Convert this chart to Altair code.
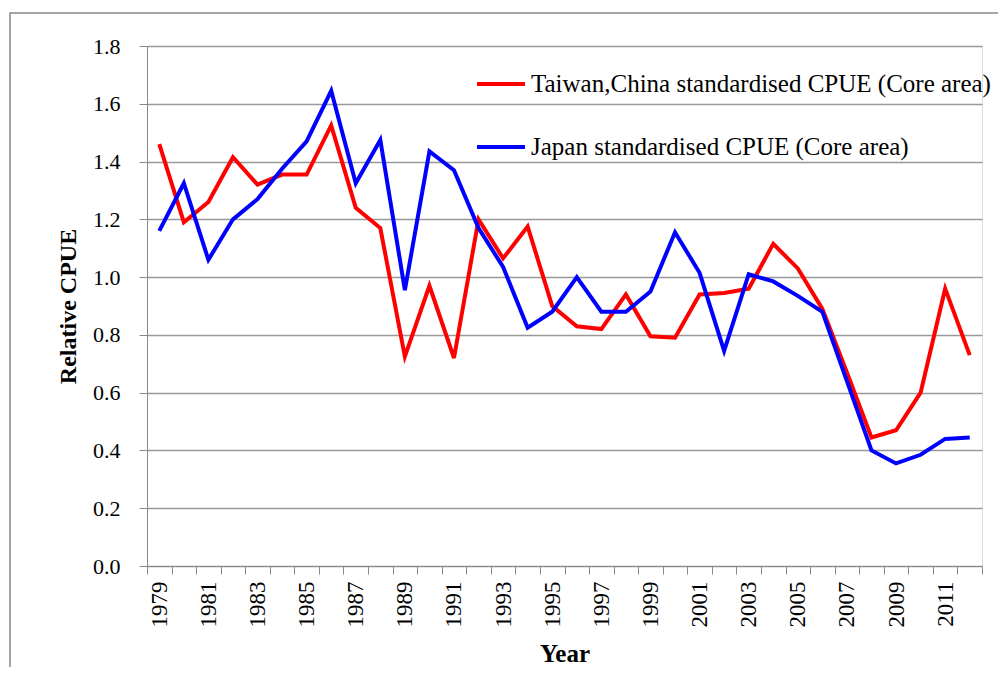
import altair as alt
import pandas as pd

years = list(range(1979, 2013))
taiwan = [1.46, 1.19, 1.26, 1.415, 1.32, 1.355, 1.355, 1.525, 1.24, 1.17,
          0.725, 0.97, 0.72, 1.20, 1.065, 1.175, 0.90, 0.83, 0.82, 0.94,
          0.795, 0.79, 0.94, 0.945, 0.96, 1.115, 1.03, 0.89, 0.67, 0.445,
          0.47, 0.60, 0.96, 0.73]
japan = [1.16, 1.325, 1.06, 1.20, 1.27, 1.375, 1.47, 1.645, 1.325, 1.475,
         0.955, 1.435, 1.37, 1.17, 1.035, 0.825, 0.88, 1.0, 0.88, 0.88,
         0.95, 1.155, 1.015, 0.745, 1.01, 0.985, 0.935, 0.88, 0.64, 0.40,
         0.355, 0.385, 0.44, 0.445]
series_names = ["Taiwan,China standardised CPUE (Core area)",
                "Japan standardised CPUE (Core area)"]
series_colors = ["#FF0000", "#0000FF"]

rows = []
for y, t, j in zip(years, taiwan, japan):
    rows.append({"Year": y, "Series": series_names[0], "CPUE": t})
    rows.append({"Year": y, "Series": series_names[1], "CPUE": j})
df = pd.DataFrame(rows)

FONT = "Times New Roman, Liberation Serif, serif"

lines = alt.Chart(df).mark_line(strokeWidth=4).encode(
    x=alt.X("Year:O",
            scale=alt.Scale(type="band", paddingInner=0, paddingOuter=0),
            axis=alt.Axis(title="Year", labelAngle=-90, tickBand="extent",
                          labelExpr="datum.value % 2 == 1 ? datum.label : ''",
                          labelFontSize=23, labelFont=FONT, labelColor="black",
                          labelBaseline="middle", labelAlign="right",
                          labelPadding=7,
                          titleFont=FONT, titleFontSize=25, titleFontWeight="bold",
                          titleColor="black", titlePadding=14,
                          domainColor="#888888", tickColor="#888888",
                          tickSize=8, grid=False)),
    y=alt.Y("CPUE:Q",
            scale=alt.Scale(domain=[0, 1.8], nice=False),
            axis=alt.Axis(title="Relative CPUE", values=[0, 0.2, 0.4, 0.6, 0.8, 1.0, 1.2, 1.4, 1.6, 1.8],
                          format=".1f", labelFontSize=22, labelFont=FONT,
                          labelColor="black", labelPadding=19,
                          titleFont=FONT, titleFontSize=24, titleFontWeight="bold",
                          titleColor="black", titlePadding=12,
                          domainColor="#888888", tickColor="#888888", tickSize=8,
                          gridColor="#999999", gridWidth=1.3)),
    color=alt.Color("Series:N",
                    scale=alt.Scale(domain=series_names, range=series_colors),
                    legend=alt.Legend(title=None, orient="none", legendX=328, legendY=12,
                                      symbolType="stroke", symbolSize=2304,
                                      symbolStrokeWidth=4, labelFont=FONT,
                                      labelFontSize=25, labelColor="black",
                                      labelOffset=4, rowPadding=24,
                                      labelLimit=700)),
)

frame = alt.Chart(pd.DataFrame({"a": [0]})).mark_rect(
    fill=None, stroke="#888888", strokeWidth=1.5
).encode(
    x=alt.value(-137), x2=alt.value(880),
    y=alt.value(-33), y2=alt.value(650),
)

chart = alt.layer(frame, lines).properties(
    width=835, height=520,
    padding={"left": 139, "top": 38, "right": 16, "bottom": 101},
    autosize=alt.AutoSizeParams(type="none"),
).configure_view(stroke=None).configure(background="white", font=FONT)

chart.save("out.html", embed_options={"renderer": "svg", "actions": False})
